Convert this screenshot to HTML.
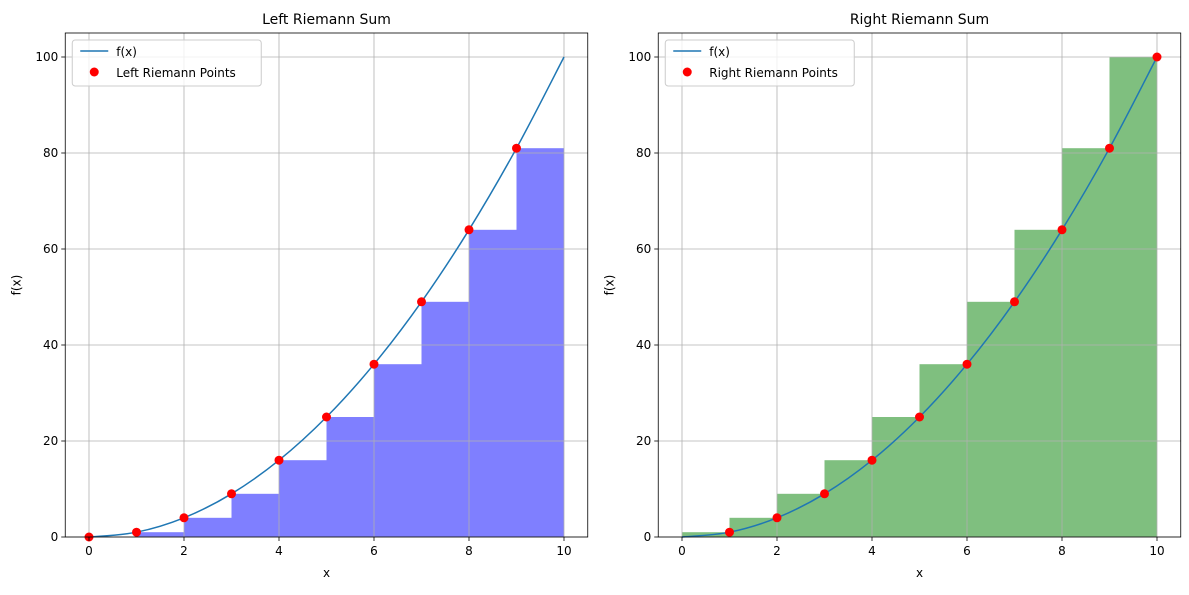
<!DOCTYPE html>
<html><head><meta charset="utf-8"><style>
body{margin:0;background:#fff;}
svg text{font-family:"DejaVu Sans","Liberation Sans",sans-serif;}
</style></head><body>
<svg id="c" width="1189" height="590" xmlns="http://www.w3.org/2000/svg"></svg>
<script>
const xValues=[0,1,2,3,4,5,6,7,8,9,10];
const fValues=[0,1,4,9,16,25,36,49,64,81,100];
const xTicks=[0,2,4,6,8,10];
const yTicks=[0,20,40,60,80,100];
const svg=document.getElementById('c');
const NS='http://www.w3.org/2000/svg';
function mk(tag,attrs,parent,text){const e=document.createElementNS(NS,tag);for(const k in attrs)e.setAttribute(k,attrs[k]);if(text!==undefined)e.textContent=text;(parent||svg).appendChild(e);return e;}
function panel(left,right,mode,title,color,legendLabel,id){
  const top=33,bottom=537;
  const sx=v=>left+(v+0.5)/11*(right-left);
  const sy=v=>bottom-v/105*(bottom-top);
  const g=mk('g',{});
  
  
  // bars
  for(let i=0;i<xValues.length-1;i++){
    const h=mode==='left'?fValues[i]:fValues[i+1];
    const r=mk('rect',{x:sx(xValues[i]),y:sy(h),width:sx(xValues[i+1])-sx(xValues[i]),height:sy(0)-sy(h),fill:color,'fill-opacity':0.5},g);
    
    
  }
  // grid
  xTicks.forEach(t=>{mk('line',{x1:sx(t),x2:sx(t),y1:top,y2:bottom,stroke:'#b0b0b0','stroke-width':0.8},g);});
  yTicks.forEach(t=>{mk('line',{x1:left,x2:right,y1:sy(t),y2:sy(t),stroke:'#b0b0b0','stroke-width':0.8},g);});
  // curve (Catmull-Rom through read points)
  const P=xValues.map((x,i)=>[sx(x),sy(fValues[i])]);
  let d='M'+P[0][0]+','+P[0][1];
  for(let i=0;i<P.length-1;i++){
    const p0=P[Math.max(0,i-1)],p1=P[i],p2=P[i+1],p3=P[Math.min(P.length-1,i+2)];
    d+=` C${p1[0]+(p2[0]-p0[0])/6},${p1[1]+(p2[1]-p0[1])/6} ${p2[0]-(p3[0]-p1[0])/6},${p2[1]-(p3[1]-p1[1])/6} ${p2[0]},${p2[1]}`;
  }
  const c=mk('path',{d:d,fill:'none',stroke:'#1f77b4','stroke-width':1.5},g);
  
  
  // points
  const idx=mode==='left'?xValues.slice(0,-1).map((_,i)=>i):xValues.slice(1).map((_,i)=>i+1);
  idx.forEach(i=>{const p=mk('circle',{cx:sx(xValues[i]),cy:sy(fValues[i]),r:4.5,fill:'#ff0000'},g);
    
    });
  // frame
  mk('rect',{x:left,y:top,width:right-left,height:bottom-top,fill:'none',stroke:'#000','stroke-width':0.8},g);
  xTicks.forEach(t=>{mk('line',{x1:sx(t),x2:sx(t),y1:bottom,y2:bottom+4,stroke:'#000','stroke-width':0.8},g);
    mk('text',{x:sx(t),y:bottom+18,'font-size':12,'text-anchor':'middle'},g,String(t));});
  yTicks.forEach(t=>{mk('line',{x1:left-4,x2:left,y1:sy(t),y2:sy(t),stroke:'#000','stroke-width':0.8},g);
    mk('text',{x:left-7,y:sy(t)+4,'font-size':12,'text-anchor':'end'},g,String(t));});
  const tt=mk('text',{x:(left+right)/2,y:24,'font-size':14,'text-anchor':'middle'},g,title);
  
  
  mk('text',{x:(left+right)/2,y:577,'font-size':12,'text-anchor':'middle'},g,'x');
  mk('text',{x:0,y:0,'font-size':12,'text-anchor':'middle',transform:`translate(${left-45},${(top+bottom)/2}) rotate(-90)`},g,'f(x)');
  // legend
  const lg=mk('g',{},g);
  
  
  const lw=legendLabel.length>20?200:189;
  mk('rect',{x:left+7,y:40,width:lw,height:46,rx:3,fill:'#fff','fill-opacity':0.8,stroke:'#ccc'},lg);
  mk('line',{x1:left+15,x2:left+43,y1:51,y2:51,stroke:'#1f77b4','stroke-width':1.5},lg);
  mk('text',{x:left+51,y:56,'font-size':12},lg,'f(x)');
  mk('circle',{cx:left+29,cy:72,r:4.5,fill:'#ff0000'},lg);
  mk('text',{x:left+51,y:77,'font-size':12},lg,legendLabel);
}
panel(65.25,587.75,'left','Left Riemann Sum','#0000ff','Left Riemann Points','left');
panel(658.25,1180.75,'right','Right Riemann Sum','#008000','Right Riemann Points','right');
</script>
</body></html>
